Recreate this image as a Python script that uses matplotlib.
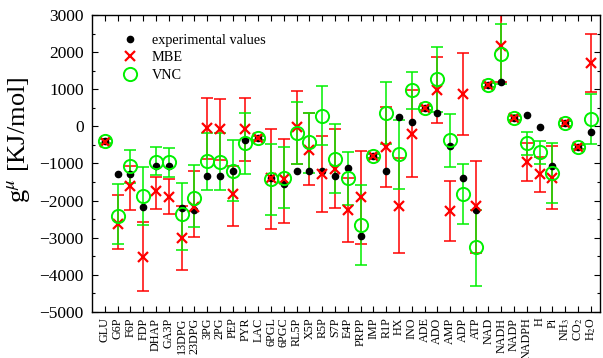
import numpy as np
import matplotlib.pyplot as plt
from matplotlib.ticker import MultipleLocator

plt.rcParams['font.family'] = ['Liberation Serif', 'DejaVu Serif']
plt.rcParams['mathtext.fontset'] = 'stix'

# metabolites
labels = ['GLU', 'G6P', 'F6P', 'FDP', 'DHAP', 'GA3P', '13DPG', '23DPG', '3PG', '2PG',
          'PEP', 'PYR', 'LAC', '6PGL', '6PGC', 'RL5P', 'X5P', 'R5P', 'S7P', 'E4P',
          'PRPP', 'IMP', 'R1P', 'HX', 'INO', 'ADE', 'ADO', 'AMP', 'ADP', 'ATP',
          'NAD', 'NADH', 'NADP', 'NADPH', 'H', 'Pi', r'NH$_3$', r'CO$_2$', r'H$_2$O']

# experimental values
exp_vals = [-400, -1295, -1295, -2185, -1080, -1080, -2187, -2245, -1340, -1340,
            -1190, -362, -310, -1400, -1545, -1210, -1210, -1210, -1348, -1132,
            -2955, -805, -1208, 260, 108, 495, 367, -526, -1396, -2263,
            1122, 1203, 238, 314, -5, -1060, 81, -562, -161]

# MBE estimate with upper / lower ends of the error bar
mbe_vals = [-410, -2640, -1600, -3510, -1738, -1896, -3000, -2160, -55, -80,
            -1810, -80, -315, -1400, -1425, -10, -638, -1280, -1150, -2255,
            -1913, -800, -553, -2138, -193, 490, 979, -2290, 871, -2147,
            1120, 2165, 235, -965, -1289, -1387, 78, -565, 1699]
mbe_hi = [-350, -1855, -1060, -2570, -1370, -1420, -2155, -1200, 775, 740,
          -1065, 775, -260, -60, -350, 945, 360, -270, -68, -1385,
          -665, -745, 530, -855, 979, 550, 1877, -1482, 1989, -930,
          1175, 3150, 290, -458, -836, -517, 135, -510, 2480]
mbe_lo = [-470, -3290, -2250, -4435, -2215, -2355, -3880, -2990, -885, -900,
          -2675, -940, -370, -2775, -2605, -1005, -1580, -2305, -2210, -3126,
          -3170, -860, -1626, -3422, -1374, 430, 81, -3099, -225, -3400,
          1065, 1190, 180, -1474, -1765, -2228, 20, -620, 918]

# VNC estimate with upper / lower ends of the error bar
vnc_vals = [-400, -2420, -1075, -1878, -950, -960, -2355, -1925, -945, -950,
            -1190, -458, -310, -1428, -1401, -189, -431, 287, -870, -1392,
            -2650, -805, 372, -754, 979, 495, 1271, -373, -1832, -3260,
            1122, 1941, 238, -454, -700, -1258, 81, -562, 199]
vnc_hi = [-340, -1540, -625, -1090, -555, -590, -1530, -1035, -180, -190,
          -375, 355, -250, -465, -560, 647, 360, 1096, 54, -683,
          -1570, -745, 1208, 185, 1472, 555, 2129, 327, -1024, -2245,
          1180, 2749, 295, -145, -390, -458, 140, -505, 885]
vnc_lo = [-460, -3170, -1525, -2665, -1320, -1370, -3340, -2700, -1716, -1716,
          -2000, -1270, -370, -2390, -2210, -1005, -1266, -512, -1783, -2128,
          -3745, -865, -468, -1697, 476, 435, 386, -1088, -2636, -4311,
          1065, 1145, 180, -770, -1022, -2075, 20, -620, -470]

x = np.arange(1, len(labels) + 1)
mbe_vals = np.array(mbe_vals)
vnc_vals = np.array(vnc_vals)
mbe_err = [mbe_vals - np.array(mbe_lo), np.array(mbe_hi) - mbe_vals]
vnc_err = [vnc_vals - np.array(vnc_lo), np.array(vnc_hi) - vnc_vals]

red = '#ff0000'
green = '#00f000'

fig = plt.figure(figsize=(6.03, 3.58), dpi=100)
ax = fig.add_axes([0.1526, 0.1285, 0.8424, 0.8296])

ax.errorbar(x, mbe_vals, yerr=mbe_err, fmt='none', ecolor=red, elinewidth=1.1,
            capsize=4, capthick=1.1, zorder=2)
ax.errorbar(x, vnc_vals, yerr=vnc_err, fmt='none', ecolor=green, elinewidth=1.1,
            capsize=4, capthick=1.1, zorder=2)
ax.plot(x, exp_vals, 'o', color='black', markersize=4.5, zorder=3,
        label='experimental values')
ax.plot(x, mbe_vals, 'x', color=red, markersize=6.5, markeredgewidth=1.6, zorder=4,
        label='MBE')
ax.plot(x, vnc_vals, 'o', markerfacecolor='none', markeredgecolor=green,
        markersize=9.5, markeredgewidth=1.4, zorder=5, label='VNC')

ax.set_xlim(0, 39.72)
ax.set_ylim(-5000, 3000)
ax.set_xticks(x)
ax.set_xticklabels(labels, rotation=90, fontsize=8.7)
ax.yaxis.set_major_locator(MultipleLocator(1000))
ax.yaxis.set_minor_locator(MultipleLocator(500))
ax.tick_params(axis='both', which='both', direction='in', top=True, right=True)
ax.tick_params(axis='both', which='major', length=4.5, width=0.8)
ax.tick_params(axis='y', which='minor', length=2.5, width=0.8)
ax.tick_params(axis='y', labelsize=12.5, pad=6)
ax.tick_params(axis='x', pad=4)
for s in ax.spines.values():
    s.set_linewidth(1.0)

ax.set_ylabel(r'g$^{\mu}$ [KJ/mol]', fontsize=19)
ax.yaxis.set_label_coords(-0.118, 0.58)

ax.legend(loc='upper left', bbox_to_anchor=(0.05, 0.955), frameon=False,
          fontsize=10.3, handlelength=1.0, handletextpad=1.0, labelspacing=0.3,
          borderaxespad=0)

fig.savefig('out.png', dpi=100)
